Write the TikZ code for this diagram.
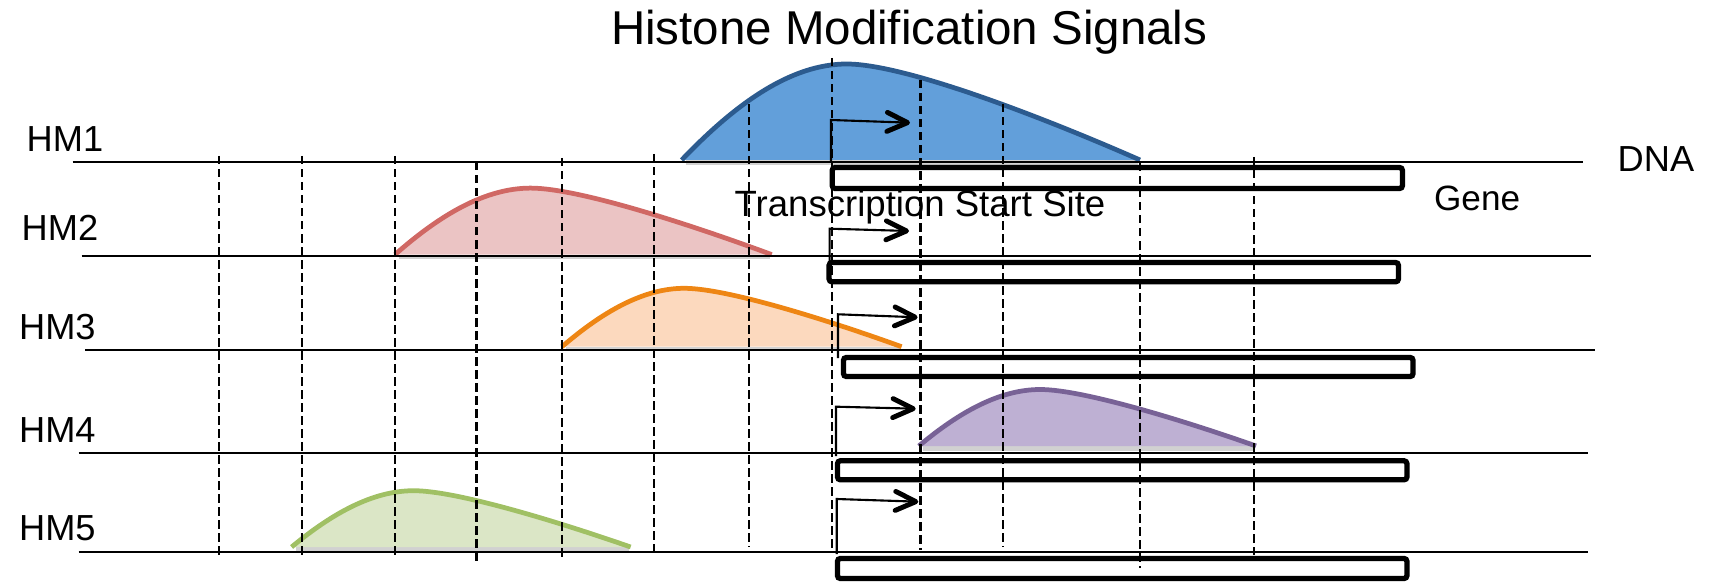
\documentclass[tikz,border=0pt]{standalone}
\usepackage{fontspec}
\setmainfont{Liberation Sans}
\usetikzlibrary{arrows.meta}
\definecolor{bluefill}{HTML}{629FDA}
\definecolor{bluestroke}{HTML}{2C5B8F}
\definecolor{redfill}{HTML}{EBC4C4}
\definecolor{redstroke}{HTML}{D06864}
\definecolor{orangefill}{HTML}{FCD9BE}
\definecolor{orangestroke}{HTML}{EE8614}
\definecolor{purplefill}{HTML}{BEB0D3}
\definecolor{purplestroke}{HTML}{786296}
\definecolor{greenfill}{HTML}{DBE6C6}
\definecolor{greenstroke}{HTML}{A0C064}
\newcommand{\hmsignal}[6]{%
  \draw[black!18, line width=1.2pt] (#1+4,#3+2.5) -- (#2-2,#3+2.5);
  \begin{scope}[shift={(#1,#3)}, xscale={#2-#1}, yscale={-#4}]
    \fill[#5] (0,0) .. controls (0.12,0.6) and (0.24,1) .. (0.36,1)
      .. controls (0.49,1) and (0.8,0.42) .. (1,0) -- cycle;
    \draw[#6, line width=1.35pt] (0,0) .. controls (0.12,0.6) and (0.24,1) .. (0.36,1)
      .. controls (0.49,1) and (0.8,0.42) .. (1,0);
  \end{scope}}
\tikzset{
  dnaline/.style={line width=0.6pt},
  genebox/.style={line width=1.5pt, rounded corners=0.8pt},
  gridline/.style={line width=0.72pt, dash pattern=on 2.4pt off 1.3pt},
  tssarrow/.style={line width=0.6pt, -{Straight Barb[length=5.8pt, width=5.4pt, line width=1.4pt, round]}},
  lbl/.style={inner sep=0pt, font=\fontsize{10.3pt}{12pt}\selectfont},
}
\begin{document}
\begin{tikzpicture}[x=0.01cm, y=-0.01cm]
\useasboundingbox (0,0) rectangle (1709,582);
% title
\node[inner sep=0pt, anchor=base, font=\fontsize{13.5pt}{16pt}\selectfont] (title) at (909.2,44.3) {Histone Modification Signals};
% labels
\node[lbl, anchor=base west] (hm1) at (26,151.7) {HM1};
\node[lbl, anchor=base west] (hm2) at (21,240.7) {HM2};
\node[lbl, anchor=base west] (hm3) at (18.4,340) {HM3};
\node[lbl, anchor=base west] (hm4) at (18.4,442.7) {HM4};
\node[lbl, anchor=base west] (hm5) at (18.4,540.7) {HM5};
\node[lbl, anchor=base west] (dna) at (1617,171.7) {DNA};
\node[lbl, anchor=base west, font=\fontsize{10pt}{12pt}\selectfont] (gene) at (1433.4,210.7) {Gene};
% signals
\hmsignal{681.7}{1140}{160}{96}{bluefill}{bluestroke}
\hmsignal{395}{771.7}{254.6}{66.5}{redfill}{redstroke}
\hmsignal{562}{901.6}{346.7}{58.4}{orangefill}{orangestroke}
\hmsignal{918.8}{1256}{446}{56.5}{purplefill}{purplestroke}
\hmsignal{291.6}{630.6}{547}{56.3}{greenfill}{greenstroke}
% DNA lines
\coordinate (l1a) at (72.7,161.7); \coordinate (l1b) at (1583,161.7);
\coordinate (l2a) at (81.5,255.7); \coordinate (l2b) at (1591,255.7);
\coordinate (l3a) at (85,350.3); \coordinate (l3b) at (1594.6,350.3);
\coordinate (l4a) at (78.5,453.3); \coordinate (l4b) at (1587.8,453.3);
\coordinate (l5a) at (78.5,552); \coordinate (l5b) at (1587.8,552);
\draw[dnaline] (l1a) -- (l1b);
\draw[dnaline] (l2a) -- (l2b);
\draw[dnaline] (l3a) -- (l3b);
\draw[dnaline] (l4a) -- (l4b);
\draw[dnaline] (l5a) -- (l5b);
% gene boxes
\draw[genebox] (832.2,167.5) rectangle (1402.4,188.5);
\draw[genebox] (829.1,262.5) rectangle (1398.4,281.8);
\draw[genebox] (843.5,357.5) rectangle (1413,376.5);
\draw[genebox] (837.5,460.8) rectangle (1406.9,479.8);
\draw[genebox] (837.5,558.5) rectangle (1406.9,578.5);
% text over
\node[lbl, anchor=base west, font=\fontsize{10.4pt}{12pt}\selectfont] (tss) at (734,216.7) {Transcription Start Site};
% dashed grid lines
\foreach \xx/\ya/\yb in {219/156/555, 302/156/556, 395/156/555, 476.5/162/561, 562/158/557, 654/154/553, 749/104/547, 832/58/548, 920.7/80/550, 1003/104/547, 1140/163/568, 1254/157/555}
  \draw[gridline] (\xx,\ya) -- (\xx,\yb);
% TSS arrows
\coordinate (s1) at (831,163); \coordinate (t1) at (831,120); \coordinate (e1) at (910,122.7);
\coordinate (s2) at (829.6,262); \coordinate (t2) at (829.6,228.7); \coordinate (e2) at (909,231);
\coordinate (s3) at (838,358); \coordinate (t3) at (838,314.3); \coordinate (e3) at (917.6,317.3);
\coordinate (s4) at (836,456); \coordinate (t4) at (836,406.7); \coordinate (e4) at (915.7,408.7);
\coordinate (s5) at (836.7,554); \coordinate (t5) at (836.7,499); \coordinate (e5) at (918.3,501.7);
\draw[tssarrow] (s1) -- (t1) -- (e1);
\draw[tssarrow] (s2) -- (t2) -- (e2);
\draw[tssarrow] (s3) -- (t3) -- (e3);
\draw[tssarrow] (s4) -- (t4) -- (e4);
\draw[tssarrow] (s5) -- (t5) -- (e5);
\end{tikzpicture}
\end{document}
